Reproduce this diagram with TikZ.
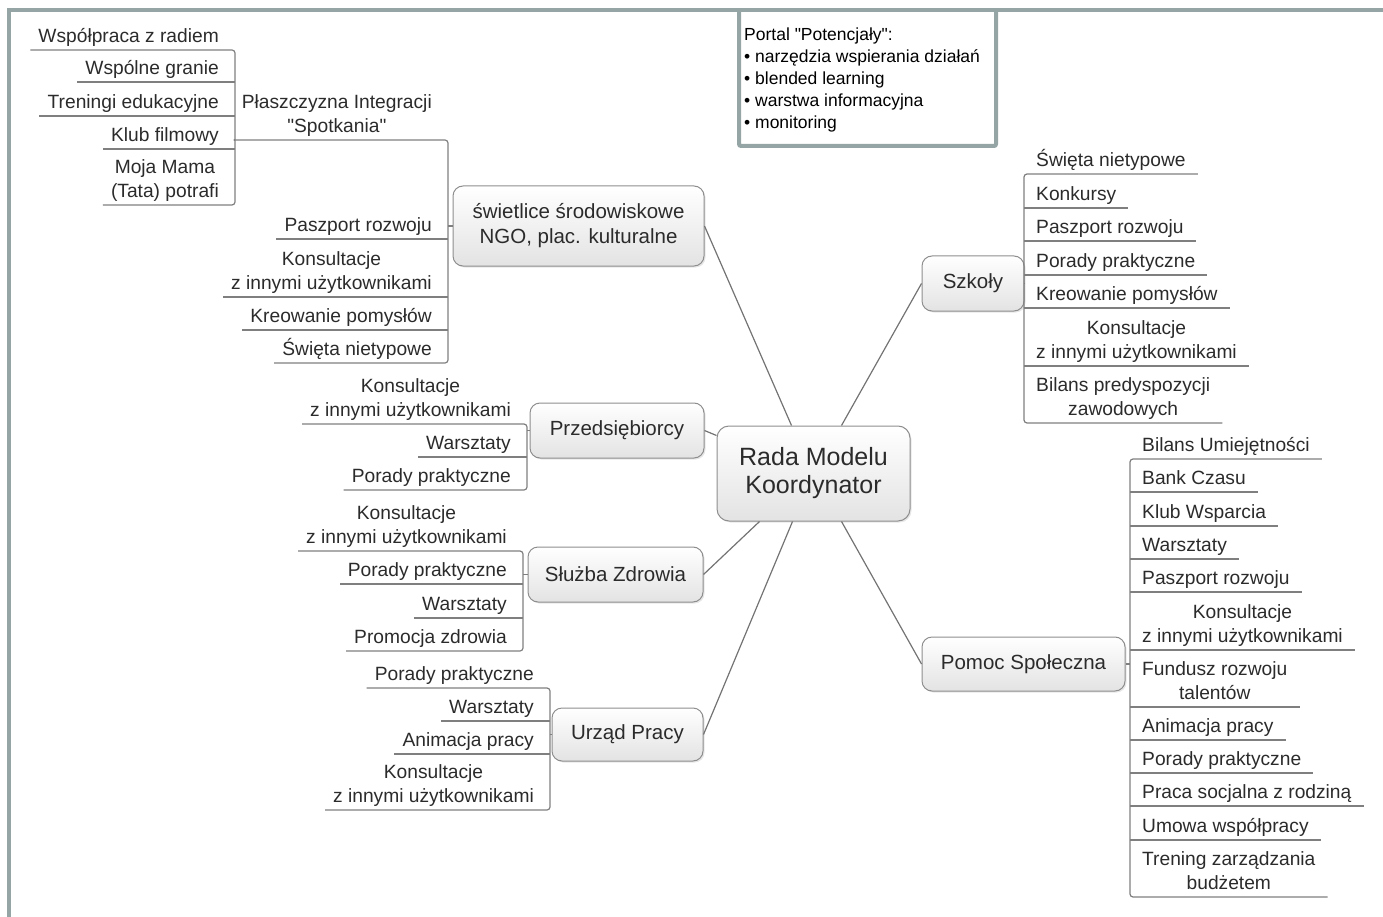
\documentclass[tikz,border=0pt]{standalone}
\usepackage{fontspec}
\setmainfont{Liberation Sans}[Ligatures=TeXOff]
\usetikzlibrary{calc,shadows}
\definecolor{frameclr}{HTML}{95A5A6}
\definecolor{lineclr}{HTML}{7F7F7F}
\definecolor{txt}{HTML}{2B2B2B}
\definecolor{boxline}{HTML}{8E8E8E}
\newcommand\leaffont{\fontsize{19.2}{24}\selectfont}
\newcommand\mmL[4]{\coordinate (#1b) at (#2,#3);\node[leafL] (#1) at (#2-8,#3) {#4};\draw[uline] (#1b) -- (#1.south west);}
\newcommand\mmLe[4]{\coordinate (#1b) at (#2,#3);\node[leafL] (#1) at (#2-8,#3) {#4};}
\newcommand\mmR[4]{\coordinate (#1b) at (#2,#3);\node[leafR] (#1) at (#1b) {#4};\draw[uline] (#1b) -- (#1.south east);}
\newcommand\mmRe[4]{\coordinate (#1b) at (#2,#3);\node[leafR] (#1) at (#1b) {#4};}
\tikzset{
 leafL/.style={anchor=south east, inner xsep=8pt, inner ysep=0pt, align=center, font=\leaffont, text=txt, execute at begin node=\strut, execute at end node=\strut},
 leafR/.style={leafL, anchor=south west, inner xsep=12pt},
 uline/.style={draw=lineclr, line width=1.2pt},
 frameline/.style={draw=frameclr, line width=4pt},
 topic/.style={draw=boxline, line width=1pt, rounded corners=10pt, top color=white, bottom color=black!11, drop shadow={opacity=0.2, shadow xshift=1.5pt, shadow yshift=-1.5pt}, align=center, font=\fontsize{20.5}{25}\selectfont, text=txt, inner sep=0pt},
 conn/.style={draw=black!55, line width=1.2pt},
}
\begin{document}
\begin{tikzpicture}[x=1pt,y=-1pt]
\useasboundingbox (0,0) rectangle (1383,917);
% frame
\draw[frameline] (9,917) -- (9,10) -- (1383,10);
% portal box
\draw[frameline, rounded corners=2pt] (739,10) -- (739,146) -- (996,146) -- (996,10);
\node[anchor=north west, align=left, inner sep=0pt, font=\fontsize{17.5}{22}\selectfont, text=black, execute at begin node=\strut] (portal) at (744,27.5)
 {Portal "Potencjały":\\• narzędzia wspierania działań\\• blended learning\\• warstwa informacyjna\\• monitoring};

% central node
\node[topic, minimum width=193pt, minimum height=95pt, rounded corners=12pt, font=\fontsize{25}{28}\selectfont] (c) at (813.5,473.5) {\raisebox{-2pt}{Rada Modelu}\\\raisebox{-2pt}{Koordynator}};

% main topics
\node[topic, minimum width=251pt, minimum height=80pt] (sw) at (578.5,226) {świetlice środowiskowe\\NGO, plac. kulturalne};
\node[topic, minimum width=174pt, minimum height=55pt] (pr) at (617,430.5) {Przedsiębiorcy};
\node[topic, minimum width=175pt, minimum height=55pt] (sz) at (615.5,574.5) {Służba Zdrowia};
\node[topic, minimum width=151pt, minimum height=53pt] (up) at (627.5,734.5) {Urząd Pracy};
\node[topic, minimum width=102pt, minimum height=55pt] (sk) at (973,283.5) {Szkoły};
\node[topic, minimum width=203pt, minimum height=54pt] (ps) at (1023.5,664) {Pomoc Społeczna};

% connectors from centre
\coordinate (cN1) at ($(c.north west)+(75,0)$);
\coordinate (cN2) at ($(c.north west)+(125,0)$);
\coordinate (cW)  at ($(c.north west)+(0,10)$);
\coordinate (cS1) at ($(c.south west)+(43,0)$);
\coordinate (cS2) at ($(c.south west)+(76,0)$);
\coordinate (cS3) at ($(c.south west)+(125,0)$);
\draw[conn] (sw.east) -- (cN1);
\draw[conn] (pr.east) -- (cW);
\draw[conn] (sz.east) -- (cS1);
\draw[conn] (up.east) -- (cS2);
\draw[conn] (sk.west) -- (cN2);
\draw[conn] (ps.west) -- (cS3);

% ---- świetlice branch (bar x=448)
\coordinate (swbar) at (448,226);
\draw[uline] (sw.west) -- (swbar);
\mmLe{pl}{448}{140}{Płaszczyzna Integracji\\"Spotkania"}
\mmL{sw2}{448}{239}{Paszport rozwoju}
\mmL{sw3}{448}{297}{Konsultacje\\z innymi użytkownikami}
\mmL{sw4}{448}{330}{Kreowanie pomysłów}
\mmLe{sw5}{448}{363}{Święta nietypowe}
\draw[uline, rounded corners=3pt] (pl.south west) -- (plb) -- (sw5b) -- (sw5.south west);

% Płaszczyzna children (bar x=235)
\coordinate (plbar) at (235,140);
\draw[uline] (pl.south west) -- (plbar);
\mmLe{pl1}{235}{50}{Współpraca z radiem}
\mmL{pl2}{235}{82}{Wspólne granie}
\mmL{pl3}{235}{116}{Treningi edukacyjne}
\mmL{pl4}{235}{149}{Klub filmowy}
\mmLe{pl5}{235}{205}{Moja Mama\\(Tata) potrafi}
\draw[uline, rounded corners=3pt] (pl1.south west) -- (pl1b) -- (pl5b) -- (pl5.south west);

% ---- Przedsiębiorcy (bar x=527)
\coordinate (prbar) at (527,430.5);
\draw[uline] (pr.west) -- (prbar);
\mmLe{pr1}{527}{424}{Konsultacje\\z innymi użytkownikami}
\mmL{pr2}{527}{457}{Warsztaty}
\mmLe{pr3}{527}{490}{Porady praktyczne}
\draw[uline, rounded corners=3pt] (pr1.south west) -- (pr1b) -- (pr3b) -- (pr3.south west);

% ---- Służba Zdrowia (bar x=523)
\coordinate (szbar) at (523,574.5);
\draw[uline] (sz.west) -- (szbar);
\mmLe{sz1}{523}{551}{Konsultacje\\z innymi użytkownikami}
\mmL{sz2}{523}{584}{Porady praktyczne}
\mmL{sz3}{523}{618}{Warsztaty}
\mmLe{sz4}{523}{651}{Promocja zdrowia}
\draw[uline, rounded corners=3pt] (sz1.south west) -- (sz1b) -- (sz4b) -- (sz4.south west);

% ---- Urząd Pracy (bar x=550)
\coordinate (upbar) at (550,734.5);
\draw[uline] (up.west) -- (upbar);
\mmLe{up1}{550}{688}{Porady praktyczne}
\mmL{up2}{550}{721}{Warsztaty}
\mmL{up3}{550}{754}{Animacja pracy}
\mmLe{up4}{550}{810}{Konsultacje\\z innymi użytkownikami}
\draw[uline, rounded corners=3pt] (up1.south west) -- (up1b) -- (up4b) -- (up4.south west);

% ---- Szkoły (bar x=1024)
\coordinate (skbar) at (1024,283.5);
\draw[uline] (sk.east) -- (skbar);
\mmRe{sk1}{1024}{174}{Święta nietypowe}
\mmR{sk2}{1024}{208}{Konkursy}
\mmR{sk3}{1024}{241}{Paszport rozwoju}
\mmR{sk4}{1024}{275}{Porady praktyczne}
\mmR{sk5}{1024}{308}{Kreowanie pomysłów}
\mmR{sk6}{1024}{366}{Konsultacje\\z innymi użytkownikami}
\mmRe{sk7}{1024}{423}{Bilans predyspozycji\\zawodowych}
\draw[uline, rounded corners=3pt] (sk1.south east) -- (sk1b) -- (sk7b) -- (sk7.south east);

% ---- Pomoc Społeczna (bar x=1130)
\coordinate (psbar) at (1130,664);
\draw[uline] (ps.east) -- (psbar);
\mmRe{ps1}{1130}{459}{Bilans Umiejętności}
\mmR{ps2}{1130}{492}{Bank Czasu}
\mmR{ps3}{1130}{526}{Klub Wsparcia}
\mmR{ps4}{1130}{559}{Warsztaty}
\mmR{ps5}{1130}{592}{Paszport rozwoju}
\mmR{ps6}{1130}{650}{Konsultacje\\z innymi użytkownikami}
\mmR{ps7}{1130}{707}{Fundusz rozwoju\\talentów}
\mmR{ps8}{1130}{740}{Animacja pracy}
\mmR{ps9}{1130}{773}{Porady praktyczne}
\mmR{ps10}{1130}{806}{Praca socjalna z rodziną}
\mmR{ps11}{1130}{840}{Umowa współpracy}
\mmRe{ps12}{1130}{897}{Trening zarządzania\\budżetem}
\draw[uline, rounded corners=3pt] (ps1.south east) -- (ps1b) -- (ps12b) -- (ps12.south east);
\end{tikzpicture}
\end{document}
